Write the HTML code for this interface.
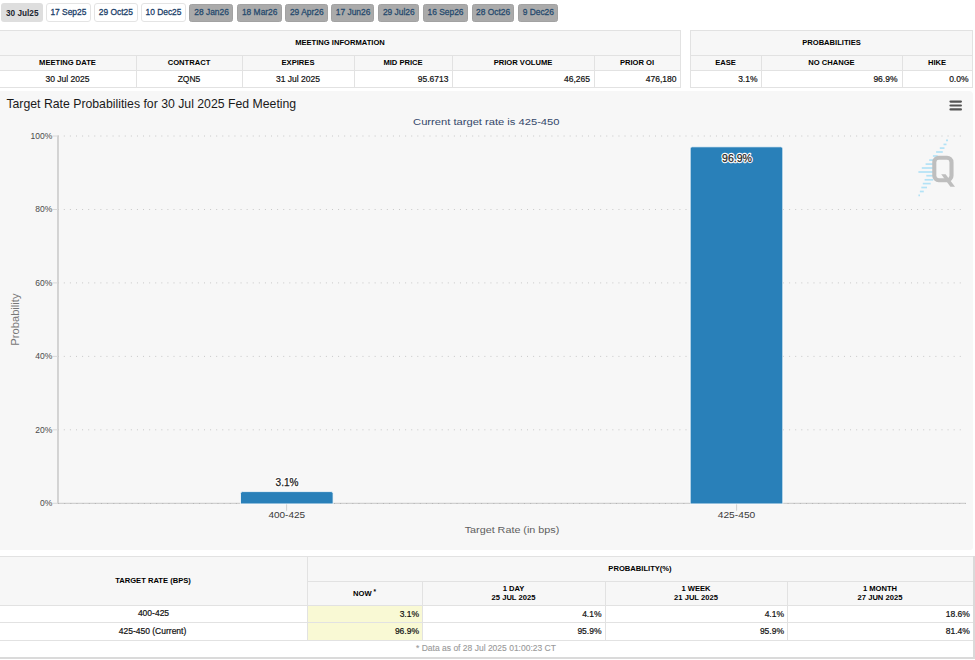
<!DOCTYPE html>
<html><head><meta charset="utf-8"><title>FedWatch</title><style>
*{margin:0;padding:0;box-sizing:border-box}
html,body{width:975px;height:660px;overflow:hidden;background:#fff;font-family:"Liberation Sans", sans-serif}
.a{position:absolute}
.tab{position:absolute;top:3px;height:19px;border-radius:3px}
.tw{background:#fff;border:1px solid #e4e4e4}
.tg{background:#aaa;border:1px solid #a2a2a2;top:3.7px;height:18.1px;border-radius:2.5px}
.hl{position:absolute;height:1px;background:#e2e2e2}
.vl{position:absolute;width:1px;background:#e2e2e2}
.th{position:absolute;font-size:7.6px;font-weight:bold;color:#000;text-align:center;white-space:nowrap;line-height:1}
.td{position:absolute;font-size:8.5px;color:#111;-webkit-text-stroke:0.2px #111;white-space:nowrap;line-height:1}
svg text{font-family:"Liberation Sans", sans-serif}
</style></head>
<body>
<div class="tab" style="left:1.2px;width:41.7px;background:#dedede"></div>
<div class="tab tw" style="left:45.8px;width:44.8px"></div>
<div class="tab tw" style="left:93.6px;width:44.0px"></div>
<div class="tab tw" style="left:140.5px;width:45.5px"></div>
<div class="tab tg" style="left:189.4px;width:43.7px"></div>
<div class="tab tg" style="left:237px;width:44.8px"></div>
<div class="tab tg" style="left:285.3px;width:42.3px"></div>
<div class="tab tg" style="left:331.1px;width:43.3px"></div>
<div class="tab tg" style="left:378.2px;width:40.6px"></div>
<div class="tab tg" style="left:422.7px;width:45.1px"></div>
<div class="tab tg" style="left:472px;width:41.6px"></div>
<div class="tab tg" style="left:517.7px;width:40.6px"></div>
<div class="a" style="left:-1px;top:30px;width:681px;height:40px;background:#f7f7f7"></div>
<div class="a" style="left:-1px;top:70px;width:681px;height:17px;background:#fff"></div>
<div class="hl" style="left:-1px;top:30px;width:682px"></div>
<div class="hl" style="left:-1px;top:55px;width:682px"></div>
<div class="hl" style="left:-1px;top:70px;width:682px"></div>
<div class="hl" style="left:-1px;top:87px;width:682px"></div>
<div class="vl" style="left:-1px;top:30px;height:58px"></div>
<div class="vl" style="left:680px;top:30px;height:58px"></div>
<div class="vl" style="left:136px;top:55px;height:33px"></div>
<div class="vl" style="left:242px;top:55px;height:33px"></div>
<div class="vl" style="left:354px;top:55px;height:33px"></div>
<div class="vl" style="left:452px;top:55px;height:33px"></div>
<div class="vl" style="left:594px;top:55px;height:33px"></div>
<div class="a" style="left:690px;top:30px;width:282px;height:40px;background:#f7f7f7"></div>
<div class="a" style="left:690px;top:70px;width:282px;height:17px;background:#fff"></div>
<div class="hl" style="left:690px;top:30px;width:283px"></div>
<div class="hl" style="left:690px;top:55px;width:283px"></div>
<div class="hl" style="left:690px;top:70px;width:283px"></div>
<div class="hl" style="left:690px;top:87px;width:283px"></div>
<div class="vl" style="left:690px;top:30px;height:58px"></div>
<div class="vl" style="left:972px;top:30px;height:58px"></div>
<div class="vl" style="left:761px;top:55px;height:33px"></div>
<div class="vl" style="left:902px;top:55px;height:33px"></div>
<div class="th" style="left:240px;width:200px;top:38.8px;font-size:7.6px">MEETING INFORMATION</div>
<div class="th" style="left:731.5px;width:200px;top:38.8px;font-size:7.6px">PROBABILITIES</div>
<div class="th" style="left:-32.5px;width:200px;top:59.1px;font-size:7.6px">MEETING DATE</div>
<div class="th" style="left:89px;width:200px;top:59.1px;font-size:7.6px">CONTRACT</div>
<div class="th" style="left:198px;width:200px;top:59.1px;font-size:7.6px">EXPIRES</div>
<div class="th" style="left:303px;width:200px;top:59.1px;font-size:7.6px">MID PRICE</div>
<div class="th" style="left:423px;width:200px;top:59.1px;font-size:7.6px">PRIOR VOLUME</div>
<div class="th" style="left:537px;width:200px;top:59.1px;font-size:7.6px">PRIOR OI</div>
<div class="th" style="left:625.5px;width:200px;top:59.1px;font-size:7.6px">EASE</div>
<div class="th" style="left:731.5px;width:200px;top:59.1px;font-size:7.6px">NO CHANGE</div>
<div class="th" style="left:837px;width:200px;top:59.1px;font-size:7.6px">HIKE</div>
<div class="td" style="left:-32.5px;width:200px;text-align:center;top:74.9px">30 Jul 2025</div>
<div class="td" style="left:89px;width:200px;text-align:center;top:74.9px">ZQN5</div>
<div class="td" style="left:198px;width:200px;text-align:center;top:74.9px">31 Jul 2025</div>
<div class="td" style="left:248.5px;width:200px;text-align:right;top:74.9px;">95.6713</div>
<div class="td" style="left:390px;width:200px;text-align:right;top:74.9px;">46,265</div>
<div class="td" style="left:476.5px;width:200px;text-align:right;top:74.9px;">476,180</div>
<div class="td" style="left:557.5px;width:200px;text-align:right;top:74.9px;">3.1%</div>
<div class="td" style="left:697.5px;width:200px;text-align:right;top:74.9px;">96.9%</div>
<div class="td" style="left:768.5px;width:200px;text-align:right;top:74.9px;">0.0%</div>
<div class="a" style="left:0;top:90.5px;width:972.5px;height:459.3px;background:#f7f7f7;border-top-right-radius:4px;border-bottom-right-radius:3px"></div>
<div class="a" style="left:-1px;top:556px;width:974px;height:49px;background:#f7f7f7"></div>
<div class="a" style="left:-1px;top:605px;width:974px;height:52px;background:#fff"></div>
<div class="a" style="left:307px;top:605px;width:115px;height:35px;background:#f9f9d4"></div>
<div class="hl" style="left:-1px;top:556px;width:974px"></div>
<div class="hl" style="left:307px;top:581px;width:666px"></div>
<div class="hl" style="left:-1px;top:605px;width:974px"></div>
<div class="hl" style="left:-1px;top:622px;width:974px"></div>
<div class="hl" style="left:-1px;top:640px;width:974px"></div>
<div class="hl" style="left:-1px;top:657px;width:974px"></div>
<div class="a" style="left:0;top:657px;width:975px;height:2px;background:#dadada"></div>
<div class="a" style="left:973px;top:556px;width:2px;height:103px;background:#dadada"></div>
<div class="vl" style="left:307px;top:556px;height:84px"></div>
<div class="vl" style="left:422px;top:581px;height:59px"></div>
<div class="vl" style="left:605px;top:581px;height:59px"></div>
<div class="vl" style="left:787px;top:581px;height:59px"></div>
<div class="th" style="left:53px;width:200px;top:576.5px;font-size:7.6px">TARGET RATE (BPS)</div>
<div class="th" style="left:540px;width:200px;top:564.7px;font-size:7.6px">PROBABILITY(%)</div>
<div class="th" style="left:264.5px;width:200px;top:589.2px;font-size:7.6px">NOW<sup style='font-size:6.5px;vertical-align:2px'> *</sup></div>
<div class="th" style="left:413.5px;width:200px;top:584.7px;font-size:7.6px">1 DAY</div>
<div class="th" style="left:413.5px;width:200px;top:594.0px;font-size:7.6px">25 JUL 2025</div>
<div class="th" style="left:596px;width:200px;top:584.7px;font-size:7.6px">1 WEEK</div>
<div class="th" style="left:596px;width:200px;top:594.0px;font-size:7.6px">21 JUL 2025</div>
<div class="th" style="left:780px;width:200px;top:584.7px;font-size:7.6px">1 MONTH</div>
<div class="th" style="left:780px;width:200px;top:594.0px;font-size:7.6px">27 JUN 2025</div>
<div class="td" style="left:53.5px;width:200px;text-align:center;top:609.2px">400-425</div>
<div class="td" style="left:52.5px;width:200px;text-align:center;top:626.7px">425-450 (Current)</div>
<div class="td" style="left:219px;width:200px;text-align:right;top:609.5px;">3.1%</div>
<div class="td" style="left:219px;width:200px;text-align:right;top:627.0px;">96.9%</div>
<div class="td" style="left:401.5px;width:200px;text-align:right;top:609.5px;">4.1%</div>
<div class="td" style="left:401.5px;width:200px;text-align:right;top:627.0px;">95.9%</div>
<div class="td" style="left:584px;width:200px;text-align:right;top:609.5px;">4.1%</div>
<div class="td" style="left:584px;width:200px;text-align:right;top:627.0px;">95.9%</div>
<div class="td" style="left:769.8px;width:200px;text-align:right;top:609.5px;">18.6%</div>
<div class="td" style="left:769.8px;width:200px;text-align:right;top:627.0px;">81.4%</div>
<div class="td" style="left:386px;width:200px;text-align:center;top:644.3px;color:#999;-webkit-text-stroke:0.1px #999">* Data as of 28 Jul 2025 01:00:23 CT</div>
<svg class="a" style="left:0;top:0" width="975" height="660"><text x="22.25" y="15.50" font-size="9.9" font-weight="bold" fill="#1c2530" text-anchor="middle" textLength="32.44" lengthAdjust="spacingAndGlyphs">30 Jul25</text>
<text x="68.40" y="15.20" font-size="9.5" font-weight="normal" fill="#1a4069" text-anchor="middle" textLength="36.00" lengthAdjust="spacingAndGlyphs" stroke="#1a4069" stroke-width="0.3">17 Sep25</text>
<text x="115.80" y="15.20" font-size="9.5" font-weight="normal" fill="#1a4069" text-anchor="middle" textLength="34.12" lengthAdjust="spacingAndGlyphs" stroke="#1a4069" stroke-width="0.3">29 Oct25</text>
<text x="163.45" y="15.20" font-size="9.5" font-weight="normal" fill="#1a4069" text-anchor="middle" textLength="35.99" lengthAdjust="spacingAndGlyphs" stroke="#1a4069" stroke-width="0.3">10 Dec25</text>
<text x="211.55" y="15.20" font-size="9.5" font-weight="normal" fill="#264a6e" text-anchor="middle" textLength="34.60" lengthAdjust="spacingAndGlyphs" stroke="#264a6e" stroke-width="0.3">28 Jan26</text>
<text x="259.70" y="15.20" font-size="9.5" font-weight="normal" fill="#264a6e" text-anchor="middle" textLength="35.52" lengthAdjust="spacingAndGlyphs" stroke="#264a6e" stroke-width="0.3">18 Mar26</text>
<text x="306.75" y="15.20" font-size="9.5" font-weight="normal" fill="#264a6e" text-anchor="middle" textLength="33.66" lengthAdjust="spacingAndGlyphs" stroke="#264a6e" stroke-width="0.3">29 Apr26</text>
<text x="353.05" y="15.20" font-size="9.5" font-weight="normal" fill="#264a6e" text-anchor="middle" textLength="34.60" lengthAdjust="spacingAndGlyphs" stroke="#264a6e" stroke-width="0.3">17 Jun26</text>
<text x="398.80" y="15.20" font-size="9.5" font-weight="normal" fill="#264a6e" text-anchor="middle" textLength="31.79" lengthAdjust="spacingAndGlyphs" stroke="#264a6e" stroke-width="0.3">29 Jul26</text>
<text x="445.55" y="15.20" font-size="9.5" font-weight="normal" fill="#264a6e" text-anchor="middle" textLength="36.00" lengthAdjust="spacingAndGlyphs" stroke="#264a6e" stroke-width="0.3">16 Sep26</text>
<text x="493.10" y="15.20" font-size="9.5" font-weight="normal" fill="#264a6e" text-anchor="middle" textLength="34.12" lengthAdjust="spacingAndGlyphs" stroke="#264a6e" stroke-width="0.3">28 Oct26</text>
<text x="538.30" y="15.20" font-size="9.5" font-weight="normal" fill="#264a6e" text-anchor="middle" textLength="31.32" lengthAdjust="spacingAndGlyphs" stroke="#264a6e" stroke-width="0.3">9 Dec26</text>
<line x1="950.5" y1="101.6" x2="960.9" y2="101.6" stroke="#555" stroke-width="2.2" stroke-linecap="round"/>
<line x1="950.5" y1="105.5" x2="960.9" y2="105.5" stroke="#555" stroke-width="2.2" stroke-linecap="round"/>
<line x1="950.5" y1="109.4" x2="960.9" y2="109.4" stroke="#555" stroke-width="2.2" stroke-linecap="round"/>
<text x="6.40" y="107.50" font-size="12.8" font-weight="normal" fill="#1a1a1a" text-anchor="start" textLength="289.80" lengthAdjust="spacingAndGlyphs">Target Rate Probabilities for 30 Jul 2025 Fed Meeting</text>
<text x="486.30" y="125.10" font-size="9.6" font-weight="normal" fill="#34476a" text-anchor="middle" textLength="146.40" lengthAdjust="spacingAndGlyphs">Current target rate is 425-450</text>
<line x1="58" y1="136.0" x2="965.4" y2="136.0" stroke="#c8c8c8" stroke-width="1" stroke-dasharray="1,5.095" stroke-dashoffset="-5.8"/>
<line x1="58" y1="209.5" x2="965.4" y2="209.5" stroke="#c8c8c8" stroke-width="1" stroke-dasharray="1,5.095" stroke-dashoffset="-5.8"/>
<line x1="58" y1="282.9" x2="965.4" y2="282.9" stroke="#c8c8c8" stroke-width="1" stroke-dasharray="1,5.095" stroke-dashoffset="-5.8"/>
<line x1="58" y1="356.4" x2="965.4" y2="356.4" stroke="#c8c8c8" stroke-width="1" stroke-dasharray="1,5.095" stroke-dashoffset="-5.8"/>
<line x1="58" y1="429.8" x2="965.4" y2="429.8" stroke="#c8c8c8" stroke-width="1" stroke-dasharray="1,5.095" stroke-dashoffset="-5.8"/>
<line x1="58" y1="135.5" x2="58" y2="503.8" stroke="#c4c4c4" stroke-width="1.4"/>
<line x1="52.5" y1="136.0" x2="58" y2="136.0" stroke="#d8d8d8" stroke-width="1"/>
<line x1="52.5" y1="209.5" x2="58" y2="209.5" stroke="#d8d8d8" stroke-width="1"/>
<line x1="52.5" y1="282.9" x2="58" y2="282.9" stroke="#d8d8d8" stroke-width="1"/>
<line x1="52.5" y1="356.4" x2="58" y2="356.4" stroke="#d8d8d8" stroke-width="1"/>
<line x1="52.5" y1="429.8" x2="58" y2="429.8" stroke="#d8d8d8" stroke-width="1"/>
<line x1="52.5" y1="503.3" x2="58" y2="503.3" stroke="#d8d8d8" stroke-width="1"/>
<line x1="58" y1="503.4" x2="966" y2="503.4" stroke="#d0d0d0" stroke-width="1.3"/>
<line x1="58" y1="503.5" x2="966" y2="503.5" stroke="#b4b4b4" stroke-width="1" stroke-dasharray="1,5.13" stroke-dashoffset="-0.1"/>
<line x1="286.6" y1="503.5" x2="286.6" y2="510.7" stroke="#d0d0d0" stroke-width="1"/>
<line x1="736.6" y1="503.5" x2="736.6" y2="510.7" stroke="#d0d0d0" stroke-width="1"/>
<path d="M240.5 503.9 L240.5 493.6 Q240.5 491.6 242.5 491.6 L331.1 491.6 Q333.1 491.6 333.1 493.6 L333.1 503.9 Z" fill="#2980b9" stroke="#fff" stroke-width="0.8"/>
<path d="M690.2 503.9 L690.2 148.8 Q690.2 146.8 692.2 146.8 L780.8 146.8 Q782.8 146.8 782.8 148.8 L782.8 503.9 Z" fill="#2980b9" stroke="#fff" stroke-width="0.8"/>
<line x1="946" y1="140.4" x2="948" y2="140.4" stroke="#b3e2f6" stroke-width="1.7"/>
<line x1="943.5" y1="144.4" x2="946.5" y2="144.4" stroke="#b3e2f6" stroke-width="1.7"/>
<line x1="939.8" y1="148.1" x2="944.5" y2="148.1" stroke="#b3e2f6" stroke-width="1.7"/>
<line x1="936.1" y1="152" x2="942.8" y2="152" stroke="#b3e2f6" stroke-width="1.7"/>
<line x1="932.9" y1="156" x2="937.8" y2="156" stroke="#b3e2f6" stroke-width="1.7"/>
<line x1="929.2" y1="160.1" x2="935" y2="160.1" stroke="#b3e2f6" stroke-width="1.7"/>
<line x1="925.6" y1="164.1" x2="935" y2="164.1" stroke="#b3e2f6" stroke-width="1.7"/>
<line x1="921.8" y1="168" x2="935" y2="168" stroke="#b3e2f6" stroke-width="1.7"/>
<line x1="918.4" y1="172" x2="935" y2="172" stroke="#b3e2f6" stroke-width="1.7"/>
<line x1="926.3" y1="175.7" x2="935" y2="175.7" stroke="#b3e2f6" stroke-width="1.7"/>
<line x1="924.6" y1="179.8" x2="933.2" y2="179.8" stroke="#b3e2f6" stroke-width="1.7"/>
<line x1="922.8" y1="183.6" x2="930.7" y2="183.6" stroke="#b3e2f6" stroke-width="1.7"/>
<line x1="921.3" y1="187.5" x2="927" y2="187.5" stroke="#b3e2f6" stroke-width="1.7"/>
<line x1="919.9" y1="191.5" x2="923.8" y2="191.5" stroke="#b3e2f6" stroke-width="1.7"/>
<line x1="918.4" y1="195.4" x2="920" y2="195.4" stroke="#b3e2f6" stroke-width="1.7"/>
<rect x="934.3" y="157.7" width="17.2" height="22.5" rx="4.5" ry="4.5" fill="none" stroke="#bebebe" stroke-width="4.1"/>
<polygon points="941.2,174.2 945.6,174.2 955,186.8 950.4,186.8" fill="#bebebe"/>
<text x="52.30" y="139.00" font-size="8.6" font-weight="normal" fill="#4a4a4a" text-anchor="end" textLength="21.78" lengthAdjust="spacingAndGlyphs">100%</text>
<text x="52.30" y="212.46" font-size="8.6" font-weight="normal" fill="#4a4a4a" text-anchor="end" textLength="17.04" lengthAdjust="spacingAndGlyphs">80%</text>
<text x="52.30" y="285.92" font-size="8.6" font-weight="normal" fill="#4a4a4a" text-anchor="end" textLength="17.04" lengthAdjust="spacingAndGlyphs">60%</text>
<text x="52.30" y="359.38" font-size="8.6" font-weight="normal" fill="#4a4a4a" text-anchor="end" textLength="17.04" lengthAdjust="spacingAndGlyphs">40%</text>
<text x="52.30" y="432.84" font-size="8.6" font-weight="normal" fill="#4a4a4a" text-anchor="end" textLength="17.04" lengthAdjust="spacingAndGlyphs">20%</text>
<text x="52.30" y="506.30" font-size="8.6" font-weight="normal" fill="#4a4a4a" text-anchor="end" textLength="12.31" lengthAdjust="spacingAndGlyphs">0%</text>
<text transform="translate(18.9,319.6) rotate(-90)" x="0" y="0" font-size="10" fill="#777" text-anchor="middle" textLength="52.3" lengthAdjust="spacingAndGlyphs">Probability</text>
<text x="286.80" y="518.10" font-size="8.6" font-weight="normal" fill="#3a3a3a" text-anchor="middle" textLength="36.70" lengthAdjust="spacingAndGlyphs">400-425</text>
<text x="736.50" y="518.00" font-size="8.6" font-weight="normal" fill="#3a3a3a" text-anchor="middle" textLength="37.50" lengthAdjust="spacingAndGlyphs">425-450</text>
<text x="512.00" y="533.30" font-size="9.6" font-weight="normal" fill="#606060" text-anchor="middle" textLength="94.60" lengthAdjust="spacingAndGlyphs">Target Rate (in bps)</text>
<text x="287.10" y="486.00" font-size="10.2" font-weight="normal" fill="#fff" text-anchor="middle" textLength="23.00" lengthAdjust="spacingAndGlyphs" stroke="#fff" stroke-width="2.4" stroke-linejoin="round">3.1%</text>
<text x="287.10" y="486.00" font-size="10.2" font-weight="normal" fill="#222" text-anchor="middle" textLength="23.00" lengthAdjust="spacingAndGlyphs" stroke="#222" stroke-width="0.25">3.1%</text>
<text x="737.00" y="161.50" font-size="10.8" font-weight="normal" fill="#fff" text-anchor="middle" textLength="29.90" lengthAdjust="spacingAndGlyphs" stroke="#fff" stroke-width="2.4" stroke-linejoin="round">96.9%</text>
<text x="737.00" y="161.50" font-size="10.8" font-weight="normal" fill="#222" text-anchor="middle" textLength="29.90" lengthAdjust="spacingAndGlyphs" stroke="#222" stroke-width="0.25">96.9%</text></svg>
</body></html>
